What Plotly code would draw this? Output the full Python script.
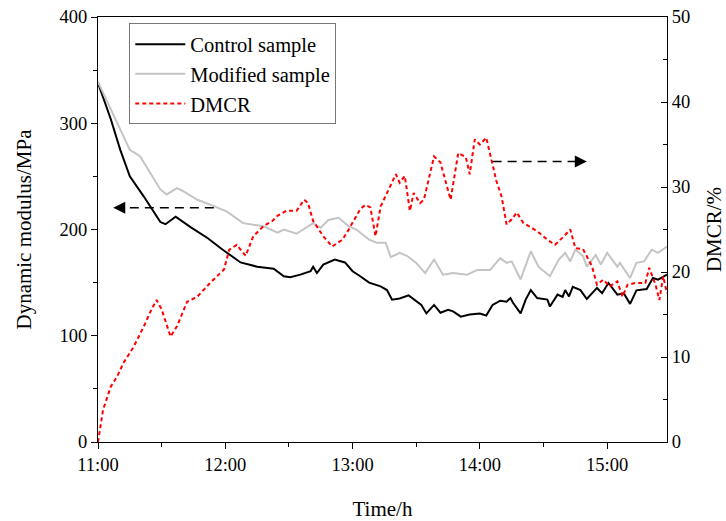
import plotly.graph_objects as go

# ---- data (time in decimal hours) ----
control_t = [0, 0.1, 0.175, 0.25, 0.36, 0.44, 0.49, 0.53, 0.61, 0.73, 0.86, 0.98, 1.12, 1.25, 1.38, 1.46, 1.51, 1.59, 1.67, 1.69, 1.72, 1.77, 1.86, 1.94, 2.0, 2.06, 2.13, 2.22, 2.27, 2.31, 2.37, 2.44, 2.51, 2.54, 2.58, 2.64, 2.69, 2.75, 2.79, 2.85, 2.92, 3.0, 3.05, 3.1, 3.16, 3.21, 3.24, 3.26, 3.32, 3.36, 3.4, 3.45, 3.53, 3.55, 3.61, 3.65, 3.67, 3.70, 3.73, 3.79, 3.84, 3.92, 3.96, 4.01, 4.08, 4.13, 4.18, 4.23, 4.31, 4.36, 4.40, 4.47]
control_v = [338, 304, 275, 250, 231, 216, 207, 205, 212, 202, 192, 181, 169, 165, 163, 156, 155, 157.5, 160.7, 165, 159, 167, 171.7, 169, 160.7, 156, 150, 146.5, 143, 134, 135, 138, 132, 129, 121, 129, 121.7, 124.5, 123, 118, 120, 121, 119, 129, 133, 132, 135.5, 131, 121, 134, 143, 135.5, 134, 127.6, 138.7, 136.5, 143, 137, 146, 143, 134.6, 145, 140, 149.7, 138.7, 140, 130, 142.7, 144, 154.4, 152.8, 157.5]

modified_t = [0, 0.1, 0.2, 0.25, 0.33, 0.41, 0.49, 0.54, 0.62, 0.67, 0.78, 0.91, 1.01, 1.14, 1.30, 1.41, 1.46, 1.56, 1.63, 1.69, 1.75, 1.81, 1.89, 1.97, 2.03, 2.13, 2.19, 2.26, 2.30, 2.37, 2.43, 2.5, 2.57, 2.64, 2.71, 2.79, 2.90, 2.98, 3.08, 3.16, 3.21, 3.25, 3.32, 3.40, 3.46, 3.55, 3.62, 3.67, 3.71, 3.75, 3.81, 3.84, 3.91, 3.95, 4.0, 4.08, 4.1, 4.18, 4.23, 4.29, 4.35, 4.40, 4.47]
modified_v = [339, 313, 288, 275, 269, 253.5, 237.7, 233, 239, 236, 228, 222, 217, 206, 203, 197, 200, 196, 201.6, 206, 201.6, 209, 211, 203, 200, 190.5, 187.5, 187.5, 174, 178, 175, 168.6, 159, 171.7, 157.5, 159, 157.5, 162, 162, 173, 168.6, 170, 153, 179.5, 165, 156, 171.7, 178, 170, 181, 175, 165, 176, 167, 178, 165, 168.6, 154.4, 168.6, 170, 181, 178, 184]

dmcr_t = [0, 0.04, 0.1, 0.15, 0.2, 0.28, 0.36, 0.42, 0.46, 0.5, 0.57, 0.62, 0.70, 0.78, 0.88, 0.99, 1.03, 1.09, 1.16, 1.22, 1.30, 1.37, 1.41, 1.48, 1.56, 1.62, 1.65, 1.69, 1.77, 1.84, 1.92, 1.97, 2.06, 2.1, 2.14, 2.18, 2.22, 2.27, 2.34, 2.37, 2.41, 2.45, 2.48, 2.53, 2.56, 2.64, 2.69, 2.77, 2.83, 2.89, 2.92, 2.96, 3.0, 3.05, 3.09, 3.13, 3.17, 3.21, 3.25, 3.29, 3.34, 3.45, 3.53, 3.59, 3.66, 3.71, 3.75, 3.81, 3.88, 3.92, 3.97, 4.02, 4.08, 4.12, 4.16, 4.22, 4.30, 4.33, 4.38, 4.41, 4.44, 4.47]
dmcr_v = [0, 3.8, 6.5, 7.7, 9.3, 11.2, 13.6, 15.6, 16.7, 15.6, 12.4, 13.6, 16.5, 17.1, 18.7, 20.3, 22.6, 23.2, 21.9, 24.2, 25.4, 26, 26.6, 27.2, 27.2, 28.5, 28.1, 26, 24.2, 23, 23.8, 25, 27.4, 27.9, 27.6, 24.2, 27.7, 29.3, 31.5, 30.5, 31.3, 27.2, 29.3, 28.1, 28.5, 33.6, 32.9, 28.5, 34, 33.5, 31.5, 35.6, 35, 35.8, 33.3, 30.7, 28.9, 25.6, 26.2, 27, 25.8, 24.8, 23.8, 23.2, 24.2, 25, 22.8, 22.7, 20.7, 18.5, 19.1, 18.3, 18.9, 17.1, 18.5, 18.7, 18.7, 20.5, 18.5, 16.7, 19.5, 17.5]

start_hour = 11
tick_hours = [11, 12, 13, 14, 15]
tick_labels = ["11:00", "12:00", "13:00", "14:00", "15:00"]

assert len(control_t) == len(control_v)
assert len(modified_t) == len(modified_v)
assert len(dmcr_t) == len(dmcr_v)

FONT = "Liberation Serif"

fig = go.Figure()
fig.add_trace(go.Scatter(x=[start_hour + t for t in control_t], y=control_v, mode="lines",
                         name="Control sample", line=dict(color="black", width=2)))
fig.add_trace(go.Scatter(x=[start_hour + t for t in modified_t], y=modified_v, mode="lines",
                         name="Modified sample", line=dict(color="#c4c4c4", width=2)))
fig.add_trace(go.Scatter(x=[start_hour + t for t in dmcr_t], y=dmcr_v, mode="lines",
                         name="DMCR", yaxis="y2",
                         line=dict(color="#ff0000", width=2, dash="4px,3px")))

# Arrows (dashed lines + heads)
arrow_left = dict(x0=11.91, x1=11.17, y=220.5)
arrow_right = dict(x0=14.1, x1=14.78, y=33.0)
fig.add_shape(type="line", xref="x", yref="y", x0=arrow_left["x0"], x1=arrow_left["x1"],
              y0=arrow_left["y"], y1=arrow_left["y"], line=dict(color="black", width=1.5, dash="9px,6px"))
fig.add_annotation(x=11.12, y=arrow_left["y"], ax=11.2, ay=arrow_left["y"], axref="x", ayref="y",
                   xref="x", yref="y", showarrow=True, arrowhead=2, arrowsize=1.6, arrowwidth=1.5,
                   arrowcolor="black", text="")
fig.add_shape(type="line", xref="x", yref="y2", x0=arrow_right["x0"], x1=arrow_right["x1"],
              y0=arrow_right["y"], y1=arrow_right["y"], line=dict(color="black", width=1.5, dash="9px,6px"))
fig.add_annotation(x=14.84, y=arrow_right["y"], ax=14.76, ay=arrow_right["y"], axref="x", ayref="y2",
                   xref="x", yref="y2", showarrow=True, arrowhead=2, arrowsize=1.6, arrowwidth=1.5,
                   arrowcolor="black", text="")

fig.update_layout(
    width=726, height=521,
    margin=dict(l=98, r=59, t=17, b=79),
    paper_bgcolor="white", plot_bgcolor="white",
    font=dict(family=FONT, size=18, color="black"),
    showlegend=True,
    legend=dict(x=0.055, y=0.985, xanchor="left", yanchor="top",
                bgcolor="white", bordercolor="#777777", borderwidth=1,
                font=dict(family=FONT, size=20.5), itemwidth=50, tracegroupgap=0),
    xaxis=dict(range=[11, 15.47], tickvals=tick_hours, ticktext=tick_labels, automargin=False,
               showgrid=False, zeroline=False, showline=True, linecolor="black", linewidth=1.2,
               mirror=True, ticks="outside", ticklen=6, tickcolor="black",
               minor=dict(dtick=0.5, tick0=11, ticks="outside", ticklen=4, tickcolor="black"),
               title=dict(text="Time/h", font=dict(size=21), standoff=27),
               tickfont=dict(size=18.5)),
    yaxis=dict(range=[0, 400], tickvals=[0, 100, 200, 300, 400], automargin=False,
               showgrid=False, zeroline=False, showline=True, linecolor="black", linewidth=1.2,
               ticks="outside", ticklen=6, tickcolor="black",
               minor=dict(dtick=50, ticks="outside", ticklen=4, tickcolor="black"),
               title=dict(text="Dynamic modulus/MPa", font=dict(size=21), standoff=22),
               tickfont=dict(size=18.5)),
    yaxis2=dict(range=[0, 50], tickvals=[0, 10, 20, 30, 40, 50], overlaying="y", side="right",
                automargin=False,
                showgrid=False, zeroline=False, showline=True, linecolor="black", linewidth=1.2,
                ticks="inside", ticklen=6, tickcolor="black",
                minor=dict(dtick=5, ticks="inside", ticklen=4, tickcolor="black"),
                title=dict(text="DMCR/%", font=dict(size=21), standoff=20),
                tickfont=dict(size=18.5)),
)

fig.write_html("out.html")
